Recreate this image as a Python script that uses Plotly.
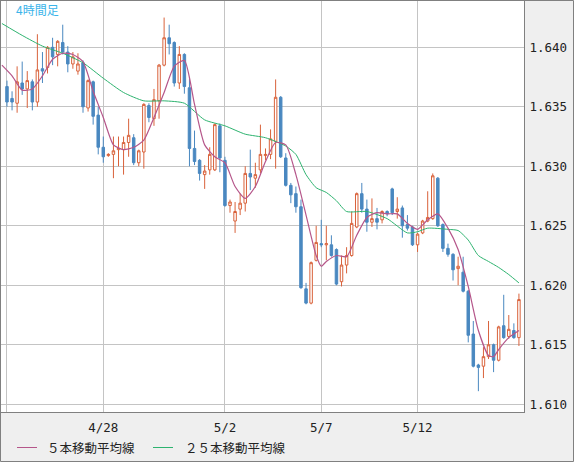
import plotly.graph_objects as go

# 4-hour candles, index 0..101 (left to right)
OPEN = [
    1.6367, 1.6357, 1.6353, 1.6370, 1.6365, 1.6371, 1.6354, 1.6382, 1.6383, 1.6400,
    1.6394, 1.6404, 1.6396, 1.6386, 1.6380, 1.6387, 1.6349, 1.6371, 1.6343, 1.6316,
    1.6309, 1.6310, 1.6314, 1.6314, 1.6320, 1.6324, 1.6303, 1.6312, 1.6351, 1.6340,
    1.6355, 1.6385, 1.6408, 1.6404, 1.6370, 1.6394, 1.6366, 1.6315, 1.6305, 1.6293,
    1.6297, 1.6297, 1.6334, 1.6305, 1.6267, 1.6254, 1.6264, 1.6269, 1.6294, 1.6290,
    1.6297, 1.6309, 1.6310, 1.6321, 1.6358, 1.6307, 1.6284, 1.6277, 1.6266, 1.6197,
    1.6185, 1.6221, 1.6235, 1.6234, 1.6234, 1.6230, 1.6203, 1.6217, 1.6225, 1.6249,
    1.6277, 1.6264, 1.6253, 1.6256, 1.6255, 1.6262, 1.6281, 1.6262, 1.6265, 1.6251,
    1.6249, 1.6234, 1.6244, 1.6254, 1.6256, 1.6290, 1.6251, 1.6231, 1.6226, 1.6214,
    1.6211, 1.6195, 1.6159, 1.6133, 1.6132, 1.6140, 1.6150, 1.6137, 1.6166, 1.6157,
    1.6162, 1.6156,
]
HIGH = [
    1.6372, 1.6363, 1.6384, 1.6388, 1.6380, 1.6373, 1.6411, 1.6396, 1.6401, 1.6408,
    1.6406, 1.6419, 1.6401, 1.6396, 1.6395, 1.6389, 1.6373, 1.6372, 1.6350, 1.6325,
    1.6311, 1.6325, 1.6325, 1.6325, 1.6340, 1.6327, 1.6314, 1.6353, 1.6353, 1.6365,
    1.6386, 1.6425, 1.6419, 1.6405, 1.6401, 1.6395, 1.6375, 1.6330, 1.6306, 1.6301,
    1.6316, 1.6336, 1.6336, 1.6308, 1.6272, 1.6270, 1.6277, 1.6300, 1.6314, 1.6303,
    1.6335, 1.6315, 1.6331, 1.6373, 1.6359, 1.6311, 1.6286, 1.6283, 1.6272, 1.6202,
    1.6220, 1.6250, 1.6255, 1.6250, 1.6242, 1.6231, 1.6225, 1.6232, 1.6262, 1.6278,
    1.6286, 1.6272, 1.6273, 1.6265, 1.6263, 1.6263, 1.6282, 1.6274, 1.6267, 1.6259,
    1.6250, 1.6244, 1.6255, 1.6279, 1.6294, 1.6291, 1.6252, 1.6235, 1.6227, 1.6224,
    1.6224, 1.6196, 1.6170, 1.6134, 1.6148, 1.6170, 1.6151, 1.6166, 1.6192, 1.6175,
    1.6168, 1.6193,
]
LOW = [
    1.6350, 1.6347, 1.6345, 1.6360, 1.6349, 1.6347, 1.6350, 1.6370, 1.6378, 1.6385,
    1.6384, 1.6394, 1.6379, 1.6382, 1.6377, 1.6345, 1.6346, 1.6335, 1.6310, 1.6303,
    1.6308, 1.6290, 1.6300, 1.6293, 1.6308, 1.6301, 1.6300, 1.6298, 1.6337, 1.6334,
    1.6340, 1.6384, 1.6394, 1.6367, 1.6365, 1.6361, 1.6300, 1.6301, 1.6288, 1.6281,
    1.6293, 1.6296, 1.6295, 1.6266, 1.6261, 1.6244, 1.6259, 1.6262, 1.6280, 1.6282,
    1.6294, 1.6305, 1.6306, 1.6298, 1.6307, 1.6283, 1.6269, 1.6261, 1.6197, 1.6184,
    1.6184, 1.6220, 1.6232, 1.6221, 1.6224, 1.6200, 1.6199, 1.6210, 1.6224, 1.6248,
    1.6261, 1.6245, 1.6249, 1.6247, 1.6252, 1.6258, 1.6259, 1.6256, 1.6240, 1.6246,
    1.6233, 1.6228, 1.6243, 1.6253, 1.6255, 1.6249, 1.6228, 1.6224, 1.6204, 1.6200,
    1.6194, 1.6152, 1.6131, 1.6111, 1.6122, 1.6138, 1.6127, 1.6136, 1.6155, 1.6155,
    1.6155, 1.6149,
]
CLOSE = [
    1.6354, 1.6354, 1.6371, 1.6365, 1.6372, 1.6354, 1.6381, 1.6380, 1.6400, 1.6392,
    1.6405, 1.6396, 1.6386, 1.6392, 1.6386, 1.6350, 1.6372, 1.6342, 1.6316, 1.6308,
    1.6310, 1.6313, 1.6315, 1.6320, 1.6326, 1.6303, 1.6313, 1.6352, 1.6341, 1.6356,
    1.6385, 1.6408, 1.6403, 1.6370, 1.6394, 1.6367, 1.6315, 1.6304, 1.6294, 1.6296,
    1.6310, 1.6335, 1.6307, 1.6267, 1.6270, 1.6262, 1.6269, 1.6294, 1.6291, 1.6293,
    1.6310, 1.6310, 1.6323, 1.6358, 1.6308, 1.6284, 1.6276, 1.6266, 1.6198, 1.6185,
    1.6219, 1.6236, 1.6234, 1.6235, 1.6225, 1.6201, 1.6217, 1.6225, 1.6252, 1.6277,
    1.6264, 1.6253, 1.6256, 1.6253, 1.6262, 1.6260, 1.6261, 1.6264, 1.6250, 1.6248,
    1.6234, 1.6243, 1.6254, 1.6257, 1.6292, 1.6250, 1.6231, 1.6226, 1.6213, 1.6216,
    1.6195, 1.6158, 1.6132, 1.6131, 1.6140, 1.6150, 1.6137, 1.6165, 1.6156, 1.6163,
    1.6156, 1.6188,
]

# moving averages (candle index, value)
MA5_IDX = [-1, 1, 3, 5, 7, 9, 11, 13, 15, 17, 19, 21, 23, 25, 27, 29, 31, 33, 35, 37,
           39, 41, 43, 45, 47, 49, 51, 53, 55, 57, 59, 61, 62, 63, 65, 67, 69, 71, 73, 75,
           77, 79, 81, 83, 85, 87, 89, 91, 93, 95, 96, 97, 99, 101]
MA5_VAL = [1.6385, 1.6376, 1.6364, 1.6365, 1.6376, 1.6390, 1.6395, 1.6394, 1.6388, 1.6363,
           1.6341, 1.6318, 1.6314, 1.6316, 1.6322, 1.6341, 1.6362, 1.6384, 1.6389, 1.6352,
           1.6318, 1.6308, 1.6303, 1.6283, 1.6273, 1.6283, 1.6304, 1.6320, 1.6318, 1.6293,
           1.6259, 1.6225, 1.6216, 1.6220, 1.6225, 1.6224, 1.6242, 1.6257, 1.6261, 1.6260,
           1.6260, 1.6252, 1.6247, 1.6255, 1.6260, 1.6248, 1.6230, 1.6199, 1.6162, 1.6141,
           1.6140, 1.6146, 1.6156, 1.6162]

MA25_IDX = [-1, 3, 7, 11, 15, 19, 23, 27, 31, 35, 39, 43, 47, 51, 55, 57, 59, 61, 63, 65,
            67, 71, 75, 79, 81, 83, 87, 89, 91, 93, 95, 97, 99, 101]
MA25_VAL = [1.6420, 1.6410, 1.6401, 1.6395, 1.6387, 1.6374, 1.6362, 1.6355, 1.6355, 1.6353,
            1.6339, 1.6334, 1.6327, 1.6324, 1.6317, 1.6310, 1.6293, 1.6282, 1.6278, 1.6271,
            1.6262, 1.6262, 1.6256, 1.6244, 1.6245, 1.6248, 1.6247, 1.6246, 1.6238, 1.6225,
            1.6220, 1.6215, 1.6209, 1.6202]

DATE_TICKS = [0, 19, 43, 62, 81]
DATE_LABELS = ["", "4/28", "5/2", "5/7", "5/12"]
PRICE_TICKS = [1.610, 1.615, 1.620, 1.625, 1.630, 1.635, 1.640]

RED = "#d9623b"
BLUE = "#4a88c0"
MA5_COLOR = "#b5568a"
MA25_COLOR = "#2db36f"
GRID = "#c4c4c4"
FRAME = "#808080"
JP_FONT = "Noto Sans CJK JP"
NUM_FONT = "DejaVu Sans Mono"

W, H = 574, 462
ML, MR, MT, MB = 1, 50, 0, 50
PW, PH = W - ML - MR, H - MT - MB

x = list(range(len(OPEN)))

fig = go.Figure()
fig.add_trace(go.Candlestick(
    x=x, open=OPEN, high=HIGH, low=LOW, close=CLOSE,
    increasing=dict(line=dict(color=RED, width=1), fillcolor="white"),
    decreasing=dict(line=dict(color=BLUE, width=1), fillcolor=BLUE),
    whiskerwidth=0,
    showlegend=False,
    hoverinfo="skip",
))
fig.add_trace(go.Scatter(
    x=MA25_IDX, y=MA25_VAL, mode="lines",
    line=dict(color=MA25_COLOR, width=1, shape="spline", smoothing=0.6),
    showlegend=False, hoverinfo="skip",
))
fig.add_trace(go.Scatter(
    x=MA5_IDX, y=MA5_VAL, mode="lines",
    line=dict(color=MA5_COLOR, width=1.2, shape="spline", smoothing=0.6),
    showlegend=False, hoverinfo="skip",
))


def px_x(p):
    return (p - ML) / PW


def px_y(p):
    return (MT + PH - p) / PH


# outer frame of the whole widget
fig.add_shape(type="rect", xref="paper", yref="paper",
              x0=px_x(0.5), x1=px_x(W - 0.5), y0=px_y(H - 0.5), y1=px_y(0.5),
              line=dict(color=FRAME, width=1), layer="above")

# legend drawn by hand
legend_items = [(17, 37, 45, "５本移動平均線", MA5_COLOR),
                (153, 173, 183, "２５本移動平均線", MA25_COLOR)]
for x0, x1, tx, label, color in legend_items:
    fig.add_shape(type="line", xref="paper", yref="paper",
                  x0=px_x(x0), x1=px_x(x1), y0=px_y(447.5), y1=px_y(447.5),
                  line=dict(color=color, width=1))
    fig.add_annotation(xref="paper", yref="paper", x=px_x(tx), y=px_y(447.5),
                       text=label, showarrow=False, xanchor="left", yanchor="middle",
                       font=dict(family=JP_FONT, size=12.5, color="#222222"))

fig.add_annotation(xref="paper", yref="paper", x=px_x(14), y=px_y(10),
                   text="4時間足", showarrow=False, xanchor="left", yanchor="middle",
                   font=dict(family=JP_FONT, size=12, color="#3ab4ea"))

fig.update_layout(
    width=W, height=H,
    margin=dict(l=ML, r=MR, t=MT, b=MB),
    paper_bgcolor="#efefef",
    plot_bgcolor="white",
    showlegend=False,
    xaxis=dict(
        range=[-1.18, 102], rangeslider=dict(visible=False),
        tickmode="array", tickvals=DATE_TICKS, ticktext=DATE_LABELS,
        showgrid=True, gridcolor=GRID, gridwidth=1, zeroline=False,
        showline=True, mirror=True, linecolor=FRAME, linewidth=1,
        ticks="", tickfont=dict(family=NUM_FONT, size=12.5, color="#222222"),
        ticklabelstandoff=4,
    ),
    yaxis=dict(
        range=[1.60935, 1.643975], side="right",
        tickmode="array", tickvals=PRICE_TICKS,
        ticktext=[f"{v:.3f}" for v in PRICE_TICKS],
        showgrid=True, gridcolor=GRID, gridwidth=1, zeroline=False,
        showline=True, mirror=True, linecolor=FRAME, linewidth=1,
        ticks="", tickfont=dict(family=NUM_FONT, size=12.5, color="#222222"),
        ticklabelstandoff=2,
    ),
)

# page body has a default 8px margin; drop it so the chart sits at the window corner
fig.write_html("out.html", config={"displayModeBar": False},
               post_script="document.body.style.margin = '0';")
